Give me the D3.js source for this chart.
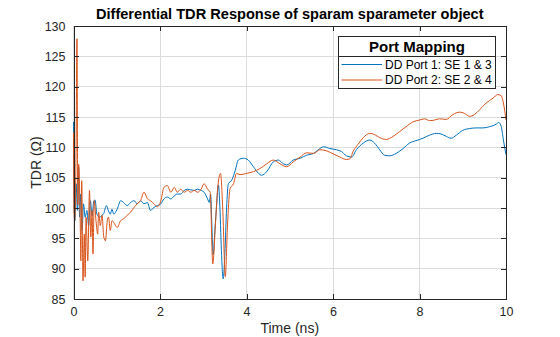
<!DOCTYPE html>
<html><head><meta charset="utf-8">
<script src="https://cdn.jsdelivr.net/npm/d3@7"></script>
<style>body{margin:0;background:#fff}svg{display:block}</style>
</head><body><svg id="c" width="560" height="337"></svg>
<script>
const seriesNames = ["DD Port 1: SE 1 & 3", "DD Port 2: SE 2 & 4"];
const xTicks = [0, 2, 4, 6, 8, 10];
const yTicks = [85, 90, 95, 100, 105, 110, 115, 120, 125, 130];

const port1T = [0.00,0.03,0.06,0.09,0.12,0.14,0.17,0.20,0.23,0.27,0.31,0.35,0.39,0.43,0.47,0.50,0.54,0.60,0.66,0.70,0.76,0.81,0.85,0.89,0.93,
1.01,1.09,1.16,1.24,1.32,1.40,1.47,1.55,1.63,1.71,1.78,1.86,1.94,2.02,2.09,2.17,2.25,2.33,2.40,2.48,2.56,2.64,2.71,2.79,2.87,2.95,3.02,3.10,3.14,3.17,
3.20,3.23,3.27,3.31,3.35,3.38,3.42,3.46,3.50,3.54,3.58,3.66,3.74,3.81,3.93,4.04,4.16,4.28,4.35,4.47,4.62,4.74,4.85,4.93,5.08,5.24,5.39,5.55,5.66,5.78,
5.93,6.08,6.20,6.31,6.43,6.54,6.70,6.85,6.96,7.08,7.19,7.31,7.46,7.62,7.77,7.92,8.08,8.23,8.39,8.50,8.62,8.73,8.85,9.00,9.16,9.31,9.47,9.62,9.77,9.83,9.89,9.94,10.0];
const port1V = [114.2,97.9,104.0,99.6,106.7,98.5,102.3,96.3,100.7,98.5,99.6,97.1,101.2,98.7,101.2,101.3,99.0,98.5,98.8,99.1,100.4,99.5,99.0,99.8,99.0,
99.8,101.2,100.9,100.4,100.9,101.2,100.7,101.2,100.7,100.9,99.6,100.1,100.4,100.7,101.5,101.8,101.5,102.0,102.3,102.3,102.9,103.1,103.0,102.9,103.1,102.9,102.6,101.5,100.9,102.3,
97.0,92.3,96.5,100.5,103.8,101.0,93.0,88.3,92.5,100.0,104.0,104.6,106.2,107.9,108.2,107.9,106.8,105.7,105.4,106.0,107.6,107.9,107.3,107.1,107.9,108.2,108.7,109.0,109.6,110.1,
109.8,109.6,109.3,108.6,108.4,109.6,110.7,111.2,110.7,109.6,108.7,108.6,109.0,109.8,110.7,111.1,111.5,112.0,112.3,112.2,111.8,111.5,112.0,112.8,113.1,113.2,113.2,113.4,113.8,114.1,113.4,111.2,108.8];

const port2T = [0.00,0.01,0.03,0.06,0.08,0.10,0.12,0.155,0.17,0.19,0.22,0.25,0.27,0.29,0.33,0.37,0.40,0.43,0.45,0.48,0.52,0.56,0.58,0.62,0.66,0.70,0.74,0.78,0.81,0.85,0.89,0.93,
1.01,1.09,1.16,1.24,1.32,1.40,1.47,1.55,1.63,1.71,1.78,1.86,1.94,2.02,2.09,2.17,2.25,2.33,2.40,2.48,2.56,2.64,2.71,2.79,2.87,2.95,3.02,3.10,3.16,
3.22,3.28,3.33,3.40,3.45,3.51,3.56,3.62,3.70,3.77,3.85,4.00,4.16,4.31,4.47,4.62,4.77,4.93,5.08,5.24,5.39,5.55,5.70,5.86,6.01,6.16,6.31,6.39,6.47,6.58,
6.70,6.85,6.96,7.08,7.23,7.39,7.54,7.69,7.85,8.00,8.12,8.23,8.35,8.46,8.62,8.77,8.93,9.04,9.16,9.27,9.39,9.54,9.70,9.81,9.89,9.94,10.0];
const port2V = [112.4,100.0,98.0,110.0,127.9,100.5,107.2,97.9,91.3,104.5,88.0,95.7,88.6,98.5,91.3,102.9,95.2,99.6,92.4,101.2,97.9,95.7,99.3,97.1,98.8,95.2,94.6,97.9,98.5,96.3,97.9,97.6,
96.8,97.9,98.2,98.8,99.3,100.1,100.7,101.2,102.6,101.5,101.2,100.7,100.2,101.2,103.4,103.7,102.6,103.4,102.6,103.1,102.6,102.9,102.6,102.9,102.6,103.1,104.0,103.1,102.6,
90.8,97.0,103.0,105.7,100.0,88.7,97.0,103.2,104.0,105.7,105.5,105.7,106.0,106.5,107.3,107.9,107.3,106.8,107.6,108.4,109.1,109.0,109.6,109.4,108.9,108.4,108.0,108.1,109.4,110.5,
111.6,112.3,112.1,111.6,111.3,111.8,112.6,113.4,114.2,114.5,114.7,114.4,114.5,114.7,114.6,115.4,115.8,115.6,115.1,115.4,116.2,117.3,118.1,118.7,118.5,117.3,114.5];

const colors = ["#0072BD", "#D95319"];
const font = "'Liberation Sans', Arial, Helvetica, sans-serif";
const m = {l: 73.5, r: 506, t: 26, b: 299};

const svg = d3.select("#c").style("font-family", font);
const x = d3.scaleLinear().domain([0, 10]).range([m.l, m.r]);
const y = d3.scaleLinear().domain([85, 130]).range([m.b, m.t]);

// grid
const g = svg.append("g");
g.selectAll(".gx").data(xTicks).join("line")
  .attr("x1", d => x(d)).attr("x2", d => x(d)).attr("y1", m.t).attr("y2", m.b)
  .attr("stroke", "#dcdcdc").attr("stroke-width", 1).attr("shape-rendering", "crispEdges");
g.selectAll(".gy").data(yTicks).join("line")
  .attr("y1", d => y(d)).attr("y2", d => y(d)).attr("x1", m.l).attr("x2", m.r)
  .attr("stroke", "#dcdcdc").attr("stroke-width", 1).attr("shape-rendering", "crispEdges");

// series
const data = [d3.zip(port1T, port1V), d3.zip(port2T, port2V)];
const line = d3.line().x(d => x(d[0])).y(d => y(d[1])).curve(d3.curveMonotoneX);
svg.append("g").selectAll("path").data(data).join("path")
  .attr("d", line).attr("fill", "none")
  .attr("stroke", (d, i) => colors[i]).attr("stroke-width", 1)
  .attr("stroke-linejoin", "round");

// axes (ticks inward)
const axisColor = "#262626";
const ax = svg.append("g").attr("transform", `translate(0,${m.b})`)
  .call(d3.axisBottom(x).tickValues(xTicks).tickSize(-5).tickPadding(8).tickFormat(d3.format("d")));
const axTop = svg.append("g").attr("transform", `translate(0,${m.t})`)
  .call(d3.axisTop(x).tickValues(xTicks).tickSize(-5).tickFormat(""));
const ay = svg.append("g").attr("transform", `translate(${m.l},0)`)
  .call(d3.axisLeft(y).tickValues(yTicks).tickSize(-5).tickPadding(8).tickFormat(d3.format("d")));
const ayR = svg.append("g").attr("transform", `translate(${m.r},0)`)
  .call(d3.axisRight(y).tickValues(yTicks).tickSize(-5).tickFormat(""));
[ax, axTop, ay, ayR].forEach(a => {
  a.selectAll("path").attr("stroke", axisColor).attr("stroke-width", 1).attr("shape-rendering", "crispEdges");
  a.selectAll("line").attr("stroke", axisColor).attr("shape-rendering", "crispEdges");
  a.selectAll("text").attr("fill", axisColor).style("font-family", font).style("font-size", "12.5px");
});

// title and labels
svg.append("text").attr("x", (m.l + m.r) / 2).attr("y", 19).attr("text-anchor", "middle")
  .style("font-size", "14.6px").style("font-weight", "bold").attr("fill", "#000")
  .text("Differential TDR Response of sparam sparameter object");
svg.append("text").attr("x", (m.l + m.r) / 2).attr("y", 333).attr("text-anchor", "middle")
  .style("font-size", "14px").attr("fill", axisColor).text("Time (ns)");
svg.append("text").attr("transform", `translate(41,${(m.t + m.b) / 2}) rotate(-90)`).attr("text-anchor", "middle")
  .style("font-size", "14px").attr("fill", axisColor).text("TDR (\u03A9)");

// legend
const lg = svg.append("g");
lg.append("rect").attr("x", 338.5).attr("y", 36.5).attr("width", 157).attr("height", 52)
  .attr("fill", "#fff").attr("stroke", axisColor).attr("stroke-width", 1);
lg.append("line").attr("x1", 338.5).attr("x2", 495.5).attr("y1", 56.5).attr("y2", 56.5)
  .attr("stroke", axisColor).attr("stroke-width", 1);
lg.append("text").attr("x", 417).attr("y", 51.5).attr("text-anchor", "middle")
  .style("font-size", "15px").style("font-weight", "bold").attr("fill", "#000").text("Port Mapping");
seriesNames.forEach((n, i) => {
  const yy = 64.5 + i * 15.5;
  lg.append("line").attr("x1", 341.5).attr("x2", 382).attr("y1", yy).attr("y2", yy)
    .attr("stroke", colors[i]).attr("stroke-width", 1);
  lg.append("text").attr("x", 385).attr("y", yy + 4.3).style("font-size", "12px")
    .attr("fill", "#000").text(n);
});
</script></body></html>
